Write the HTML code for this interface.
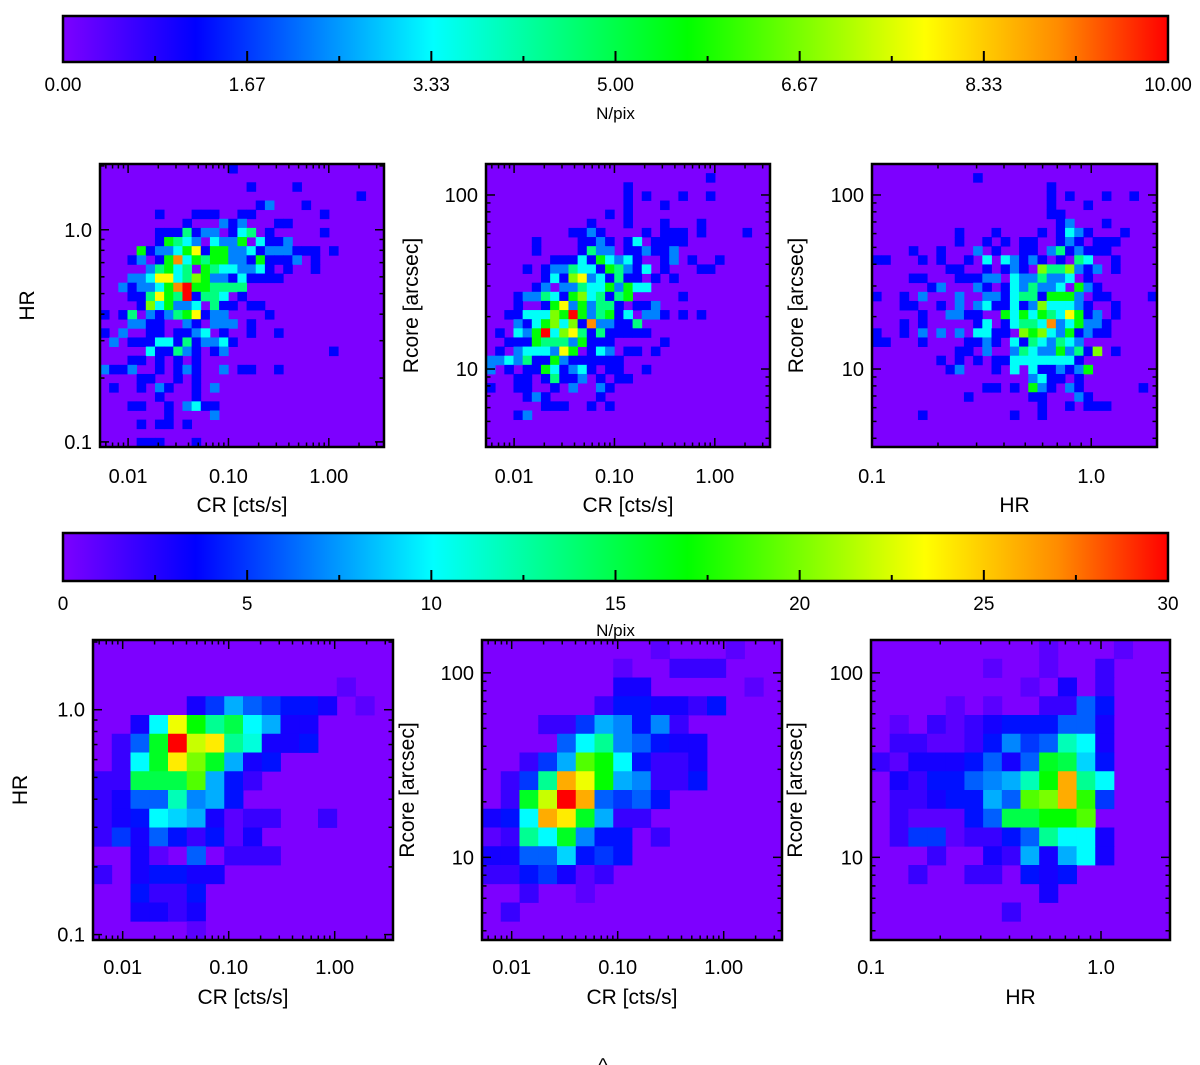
<!DOCTYPE html>
<html><head><meta charset="utf-8"><style>
html,body{margin:0;padding:0;background:#fff;}
svg{display:block;}
text{font-family:"Liberation Sans",sans-serif;fill:#000;}
</style></head><body>
<svg id="fig" width="1200" height="1065" viewBox="0 0 1200 1065" xmlns="http://www.w3.org/2000/svg">
<defs>
<linearGradient id="cmapGrad" x1="0" x2="1" y1="0" y2="0">
<stop offset="0" stop-color="rgb(125,0,255)"/><stop offset="0.12" stop-color="rgb(0,0,255)"/><stop offset="0.335" stop-color="rgb(0,255,255)"/><stop offset="0.565" stop-color="rgb(0,255,0)"/><stop offset="0.78" stop-color="rgb(255,255,0)"/><stop offset="0.9" stop-color="rgb(255,140,0)"/><stop offset="1" stop-color="rgb(255,0,0)"/>
</linearGradient>
</defs>
<text x="603" y="1072" font-size="20" text-anchor="middle">^</text>
</svg>
<script>
// ---- data ----
const topCbTicks = ["0.00","1.67","3.33","5.00","6.67","8.33","10.00"];
const botCbTicks = ["0","5","10","15","20","25","30"];
const topMax = 10, botMax = 30;
// code -> N/pix for top panels
const topLevels = [0,1.2,2.3,3.4,4.5,5.6,6.7,7.8,9,9.5,10];

const topLeftCells = ["14:1","","16:1 21:1","28:1","17:1 18:2 22:1","6:1 10:1 11:1 12:1 15:1 16:1 24:1",
"9:1 13:2 14:1 15:2 19:1 20:1","6:1 7:1 8:1 9:4 10:1 11:2 12:2 14:1 15:3 16:4 18:1 24:1",
"6:1 7:5 8:4 9:3 10:2 12:3 13:2 14:2 15:5 17:3 18:1 19:1 20:2",
"4:5 5:1 6:2 7:2 8:3 9:5 10:7 11:1 12:5 13:5 14:2 15:2 16:3 17:1 18:2 19:2 20:2 21:1 22:1 23:1 25:1",
"3:1 4:2 6:1 7:5 8:8 9:3 10:5 11:4 12:5 13:5 14:2 15:2 16:1 17:5 18:1 19:1 20:1 21:2 23:1",
"5:2 6:4 7:5 8:3 9:4 11:5 12:4 13:3 14:3 15:2 16:2 17:3 18:1 20:1 23:1",
"3:2 4:2 5:3 6:7 7:7 8:3 9:4 10:6 11:5 12:2 13:2 14:1 15:3 16:1 17:1 18:1 19:1",
"2:2 3:1 4:2 5:2 6:3 7:5 8:8 9:10 10:5 11:5 12:4 13:4 14:4 15:4",
"3:1 4:1 5:4 6:7 7:5 8:4 9:10 10:1 11:4 12:4 13:3 15:1",
"4:1 5:6 6:3 7:5 8:2 9:2 10:3 12:4 13:1 14:1 16:1 17:1",
"0:1 2:1 3:4 5:2 6:1 7:2 8:4 9:5 10:7 11:1 12:2 13:2 18:1",
"3:2 4:2 5:1 6:1 9:2 10:1 12:2 13:2 14:2 16:1",
"0:1 2:2 5:1 6:1 8:1 9:1 10:2 11:3 13:1 16:1 19:1",
"1:2 3:1 4:1 5:1 6:3 7:3 8:1 9:4 10:1 11:2 12:2 13:3 14:1",
"5:3 6:1 7:1 8:4 9:2 10:1 12:1 13:2 25:1",
"3:1 4:1 6:1 8:1 10:1",
"0:2 1:1 2:1 3:2 6:1 8:1 9:2 10:1 13:2 15:1 16:1 19:1",
"4:1 5:1 8:1 10:1","1:1 4:1 6:2 7:1 10:1 12:2","6:1 10:1","3:1 4:1 7:1 9:2 10:3 11:1 12:1",
"7:1 12:2","4:1 6:1 7:1 9:1","","4:1 5:1 6:1 10:1"];

const topMidCells = ["","24:1","15:1","15:1 17:1 21:1 24:1","15:1 19:1","13:1 15:1","11:1 15:1 19:1 23:1",
"9:1 10:1 11:2 12:1 17:1 19:1 20:1 21:1 23:1 28:1",
"5:1 10:1 11:1 12:2 13:1 15:1 16:3 18:1 19:1 20:1 21:1",
"5:1 10:1 11:4 12:2 13:2 15:1 16:1 17:2 18:1 19:1 20:2",
"7:1 8:1 9:1 10:3 11:1 12:5 13:3 14:2 15:3 16:1 19:1 20:2 22:1 25:1",
"4:1 6:1 7:2 8:2 9:4 10:3 11:3 12:1 13:5 14:4 15:2 16:1 17:3 19:1 23:1 24:1",
"6:1 7:3 8:1 9:6 10:7 11:2 12:3 13:1 14:4 15:1 16:1 18:1 20:1",
"5:1 6:2 8:2 9:2 10:4 11:3 12:3 13:5 14:2 15:5 16:3 17:3",
"3:1 4:2 5:2 6:4 7:3 8:1 9:5 10:6 11:3 12:4 13:1 14:4 15:5 21:1",
"3:1 6:1 7:5 8:7 9:2 10:5 11:2 12:4 13:4 14:1 16:1 17:1 18:2",
"2:1 3:1 4:3 5:3 6:3 7:6 8:5 9:10 10:5 11:2 12:4 13:5 14:1 15:3 17:2 18:2 19:1 21:1 23:1",
"3:2 4:1 5:3 6:5 7:6 8:3 9:6 10:1 11:8 12:2 13:2 14:1 15:1 16:4",
"1:1 3:3 4:2 5:5 6:10 7:3 8:6 9:7 10:4 11:1 12:4 13:1 14:1 15:1 16:1 17:1",
"2:1 3:1 4:1 5:5 6:4 7:4 8:4 9:2 10:5 11:1 12:1 13:1 19:1",
"1:1 3:2 4:3 5:3 6:3 7:2 8:7 9:5 11:1 12:3 13:2 15:1 16:1 18:1",
"0:2 1:2 2:3 3:2 4:4 5:1 6:1 7:5 8:2 9:1 10:1 11:1 12:1 13:1 14:1",
"0:2 2:1 4:1 5:1 6:5 7:3 8:1 9:2 10:3 11:1 13:1 14:1 17:1",
"3:1 4:1 6:1 7:4 8:1 9:1 10:2 12:1 14:1 15:1",
"0:1 3:1 4:1 7:1 9:2 12:2 13:1","4:1 5:2 6:1 12:1","6:1 7:1 8:1 11:1 13:1","3:1 4:2","","","",""];

const topRightCells = ["","11:1","19:1","19:1 21:1 25:1 28:1","19:1 23:1","19:1 20:1","20:1 21:2 25:1",
"9:1 13:1 18:1 20:1 21:3 22:2 23:1 27:1",
"9:1 12:1 14:1 16:1 17:1 20:1 21:2 22:1 24:1 25:1 26:1",
"4:1 7:1 11:2 13:1 16:1 17:1 19:2 20:4 21:1 22:2 23:1 24:1 25:1",
"0:1 1:1 5:1 7:1 10:1 12:3 14:3 15:2 16:1 17:2 18:1 20:1 22:4 23:3 26:1",
"8:1 9:1 12:1 14:1 15:2 16:1 18:6 19:4 20:4 21:6 22:2 23:1 24:2 26:1",
"4:1 5:1 9:1 10:1 11:1 12:2 13:2 15:3 16:2 17:2 18:4 19:2 20:2 21:3 23:1",
"6:1 7:2 11:2 12:1 14:1 15:3 16:2 17:4 18:2 19:2 20:3 22:5 23:2 24:1",
"0:1 3:1 5:2 9:2 12:2 13:2 14:1 15:3 16:4 17:4 18:1 19:5 20:5 21:5 22:2 24:1 25:1 30:1",
"3:1 4:1 7:1 9:2 11:2 12:3 13:1 14:1 15:3 16:1 17:2 18:6 19:3 20:3 21:3 22:2 23:1 26:1",
"5:1 8:2 9:2 10:1 11:1 14:5 15:3 16:5 17:3 18:5 19:4 20:3 21:7 22:5 23:1 24:2 26:1",
"3:1 5:1 11:1 12:3 14:1 15:3 16:4 17:4 18:3 19:8 20:2 21:3 22:5 23:2 24:2 25:1",
"0:1 3:1 5:2 7:2 9:2 11:3 12:3 13:1 14:1 16:6 17:5 18:6 19:3 20:2 21:5 22:1 23:2 24:1 25:1",
"0:1 1:1 5:1 10:1 11:1 12:2 13:1 15:3 16:1 17:4 18:3 19:2 20:4 21:3 22:2",
"9:1 10:1 12:2 15:2 16:4 17:3 18:2 19:2 20:5 21:2 22:4 23:1 24:6 26:1",
"7:1 9:1 11:1 13:1 14:1 15:3 16:3 17:3 18:3 19:3 20:3 21:3 22:1",
"8:1 9:2 13:1 15:3 17:3 18:1 19:1 20:2 21:1 22:2 23:5",
"17:2 18:3 19:1 20:1 22:1","12:1 13:1 15:1 17:5 18:2 19:1 21:2 22:1 29:1",
"10:1 17:1 18:1 22:2 23:1","18:1 21:1 23:1 24:1 25:1","5:1 15:1 18:1","","","",""];

// bottom panels: base-36 digit = N/pix
const botLeftGrid = ["0000000000000000","0000000000000000","0000000000000100","0000035865443010","003anhdfa8330000",
"026gumodb3340000","02agokg834000000","22fffj8420000000","2366c78400000000",
"234a983122002000","2536424130000000","0031060222000000","2034433000000000",
"0042240000000000","0033230000000000","0000010000000000"];
const botMidGrid = ["0000000001000100","0000000100222000","0000000330000010","0000002443324000",
"0002258747200000","00006ad764330000","00258jha42230000","025dqnh872240000",
"02gmuq6564000000","34aqog8220000000","12dag74402000000","3366945400000000",
"2245312000000000","0020010000000000","0200000000000000","0000000000000000"];
const botRightGrid = ["0000000001000100","0000001001002000","0000000010302000","0000101002264000",
"0102123444663000","0221124756ca3000","213334636gf94000","03244678chqda000",
"02234486jkqi5000","0211146ffhhj0000","025512246daa3000","00020032838a3000",
"0020022043400000","0000000003000000","0000000200000000","0000000000000000"];

const crTickLabels = ["0.01","0.10","1.00"], crTickVals = [-2,-1,0];
const hrTickLabels = ["0.1","1.0"], hrTickVals = [-1,0];
const rcTickLabels = ["10","100"], rcTickVals = [1,2];

// ---- helpers ----
const NS = "http://www.w3.org/2000/svg";
const svg = document.getElementById("fig");
const stops = [[0,[125,0,255]],[0.12,[0,0,255]],[0.335,[0,255,255]],[0.565,[0,255,0]],[0.78,[255,255,0]],[0.9,[255,140,0]],[1,[255,0,0]]];
function cmap(t){
  t = Math.max(0, Math.min(1, t));
  for (let i = 1; i < stops.length; i++) {
    if (t <= stops[i][0]) {
      const a = stops[i-1], b = stops[i], f = (t - a[0]) / (b[0] - a[0]);
      const c = a[1].map((v, k) => Math.round(v + (b[1][k] - v) * f));
      return "rgb(" + c.join(",") + ")";
    }
  }
  return "rgb(255,0,0)";
}
function mk(tag, attrs, parent){
  const e = document.createElementNS(NS, tag);
  for (const k in attrs) e.setAttribute(k, attrs[k]);
  (parent || svg).appendChild(e);
  return e;
}
function linScale(d0, d1, r0, r1){ return v => r0 + (v - d0) / (d1 - d0) * (r1 - r0); }

function colorbar(x0, y0, x1, y1, labels, maxV, labelY, titleY, name){
  const g = mk("g", {});
  
  
  const r = mk("rect", {x:x0, y:y0, width:x1-x0, height:y1-y0, fill:"url(#cmapGrad)", stroke:"#000", "stroke-width":2.5}, g);
  
  
  const sx = linScale(0, maxV, x0, x1);
  const n = labels.length - 1;
  for (let i = 0; i <= 2*n; i++) {
    const v = maxV * i / (2*n), x = sx(v);
    const len = (i % 2 === 0) ? 11 : 6;
    if (i > 0 && i < 2*n) mk("line", {x1:x, x2:x, y1:y1, y2:y1-len, stroke:"#000", "stroke-width":2}, g);
  }
  labels.forEach((lab, i) => {
    const t = mk("text", {x:sx(maxV*i/n), y:labelY, "font-size":19, "text-anchor":"middle"}, g);
    t.textContent = lab;
    
    
  });
  const tt = mk("text", {x:(x0+x1)/2, y:titleY, "font-size":17, "text-anchor":"middle"}, g);
  tt.textContent = "N/pix";
  
  
}

function logTicks(d0, d1){
  const out = [];
  for (let d = Math.floor(d0) - 1; d <= Math.ceil(d1); d++) {
    for (let k = 1; k <= 9; k++) {
      const v = d + Math.log10(k);
      if (v > d0 + 0.002 && v < d1 - 0.002) out.push([v, k === 1]);
    }
  }
  return out;
}

function panel(cfg){
  const g = mk("g", {});
  
  
  const {x0, x1, y0, y1} = cfg;
  const bg = mk("rect", {x:x0, y:y0, width:x1-x0, height:y1-y0, fill:cmap(0)}, g);
  
  
  const n = cfg.n;
  const cx = linScale(0, n, x0, x1), cy = linScale(0, n, y0, y1);
  const addCell = (r, c, v) => {
    if (v <= 0) return;
    const rc = mk("rect", {x:cx(c), y:cy(r), width:cx(c+1)-cx(c)+0.4, height:cy(r+1)-cy(r)+0.4, fill:cmap(v / cfg.maxV)}, g);
    
    
  };
  if (cfg.sparse) {
    cfg.sparse.forEach((row, r) => {
      row.split(" ").filter(s => s).forEach(p => {
        const [c, code] = p.split(":").map(Number);
        addCell(r, c, topLevels[code]);
      });
    });
  } else {
    cfg.grid.forEach((row, r) => {
      for (let c = 0; c < row.length; c++) addCell(r, c, parseInt(row[c], 36));
    });
  }
  const sx = linScale(cfg.xd[0], cfg.xd[1], x0, x1);
  const sy = linScale(cfg.yd[0], cfg.yd[1], y1, y0);
  logTicks(cfg.xd[0], cfg.xd[1]).forEach(([v, maj]) => {
    const x = sx(v), L = maj ? 9 : 4.5;
    mk("line", {x1:x, x2:x, y1:y1, y2:y1-L, stroke:"#000", "stroke-width":1.5}, g);
    mk("line", {x1:x, x2:x, y1:y0, y2:y0+L, stroke:"#000", "stroke-width":1.5}, g);
  });
  logTicks(cfg.yd[0], cfg.yd[1]).forEach(([v, maj]) => {
    const y = sy(v), L = maj ? 9 : 4.5;
    mk("line", {x1:x0, x2:x0+L, y1:y, y2:y, stroke:"#000", "stroke-width":1.5}, g);
    mk("line", {x1:x1, x2:x1-L, y1:y, y2:y, stroke:"#000", "stroke-width":1.5}, g);
  });
  const br = mk("rect", {x:x0, y:y0, width:x1-x0, height:y1-y0, fill:"none", stroke:"#000", "stroke-width":2.5}, g);
  
  
  cfg.xTickVals.forEach((v, i) => {
    const t = mk("text", {x:sx(v), y:cfg.xLabY, "font-size":20, "text-anchor":"middle"}, g);
    t.textContent = cfg.xTickLabels[i];
    
    
  });
  cfg.yTickVals.forEach((v, i) => {
    const t = mk("text", {x:x0-8, y:sy(v)+7, "font-size":20, "text-anchor":"end"}, g);
    t.textContent = cfg.yTickLabels[i];
    
    
  });
  const xt = mk("text", {x:(x0+x1)/2, y:cfg.xTitY, "font-size":21, "text-anchor":"middle"}, g);
  xt.textContent = cfg.xTitle;
  
  
  const ymid = (y0+y1)/2;
  const yt = mk("text", {x:cfg.yTitX, y:ymid, "font-size":21, "text-anchor":"middle", transform:"rotate(-90 " + cfg.yTitX + " " + ymid + ")"}, g);
  yt.textContent = cfg.yTitle;
  
  
}

const crD = [-2.28, 0.55], hrD = [-1.024, 0.31], hrXD = [-1, 0.30], rcD = [0.552, 2.178];
const CR = {xd:crD, xTickVals:crTickVals, xTickLabels:crTickLabels, xTitle:"CR [cts/s]"};
const HRX = {xd:hrXD, xTickVals:hrTickVals, xTickLabels:hrTickLabels, xTitle:"HR"};
const HRY = {yd:hrD, yTickVals:hrTickVals, yTickLabels:hrTickLabels, yTitle:"HR"};
const RCY = {yd:rcD, yTickVals:rcTickVals, yTickLabels:rcTickLabels, yTitle:"Rcore [arcsec]"};

colorbar(63, 16, 1168, 62, topCbTicks, topMax, 91, 119, "colorbar-top");
colorbar(63, 533, 1168, 581, botCbTicks, botMax, 610, 636, "colorbar-bottom");

const topRow = {y0:164, y1:447, n:31, maxV:topMax, xLabY:483, xTitY:512};
panel(Object.assign({name:"panel-hr-vs-cr-top", x0:100, x1:384, sparse:topLeftCells, yTitX:34}, topRow, CR, HRY));
panel(Object.assign({name:"panel-rcore-vs-cr-top", x0:486, x1:770, sparse:topMidCells, yTitX:418}, topRow, CR, RCY));
panel(Object.assign({name:"panel-rcore-vs-hr-top", x0:872, x1:1157, sparse:topRightCells, yTitX:803}, topRow, HRX, RCY));

const botRow = {y0:640, y1:940, n:16, maxV:botMax, xLabY:974, xTitY:1004};
panel(Object.assign({name:"panel-hr-vs-cr-bottom", x0:93, x1:393, grid:botLeftGrid, yTitX:27}, botRow, CR, HRY));
panel(Object.assign({name:"panel-rcore-vs-cr-bottom", x0:482, x1:782, grid:botMidGrid, yTitX:414}, botRow, CR, RCY));
panel(Object.assign({name:"panel-rcore-vs-hr-bottom", x0:871, x1:1170, grid:botRightGrid, yTitX:802}, botRow, HRX, RCY));
</script>
</body></html>
